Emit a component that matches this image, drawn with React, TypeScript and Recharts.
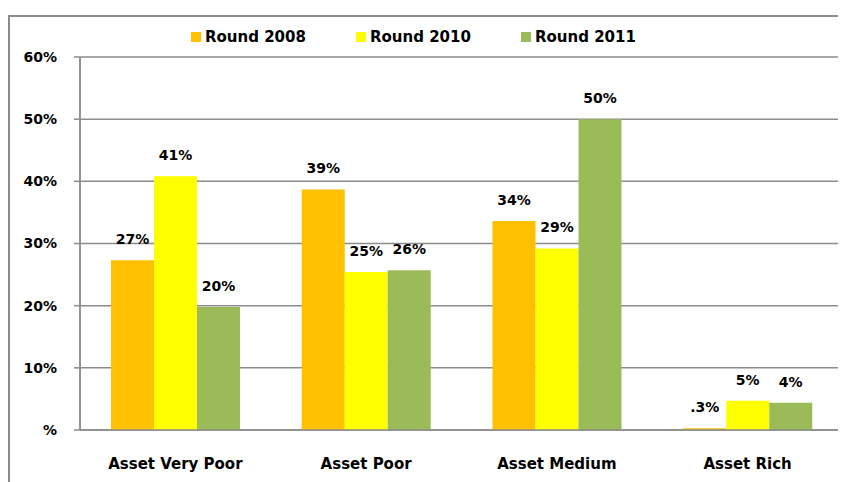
import React from "react";
import { BarChart, Bar, XAxis, YAxis, CartesianGrid, Legend, LabelList } from "recharts";

const categories = ["Asset Very Poor", "Asset Poor", "Asset Medium", "Asset Rich"];
const round2008 = [27.3, 38.7, 33.6, 0.3];
const round2010 = [40.8, 25.4, 29.2, 4.7];
const round2011 = [19.8, 25.7, 50.0, 4.4];
const yTicks = [0, 10, 20, 30, 40, 50, 60];
const sepTicks = [0, 1, 2, 3, 4];
const seriesNames = ["Round 2008", "Round 2010", "Round 2011"];
const seriesColors = ["#FFC000", "#FFFF00", "#9BBB59"];

const data = categories.map((c, i) => ({
  name: c,
  r2008: round2008[i],
  r2010: round2010[i],
  r2011: round2011[i],
}));

const FONT = "'DejaVu Sans', sans-serif";
const GRID = "#8c8c8c";

const fmtLabel = (v: any) => {
  const n = Number(v);
  return n < 1 ? `.${Math.round(n * 10)}%` : `${Math.round(n)}%`;
};

const LegendContent = () => (
  <div style={{ display: "flex", height: 18, paddingLeft: 191, fontFamily: FONT, fontWeight: "bold", fontSize: 15, color: "#000" }}>
    {seriesNames.map((n, i) => (
      <div key={n} style={{ width: 165, display: "flex", alignItems: "center" }}>
        <span style={{ display: "inline-block", width: 10, height: 10, background: seriesColors[i], marginRight: 4 }} />
        <span style={{ lineHeight: "18px" }}>{n}</span>
      </div>
    ))}
  </div>
);

const keys = ["r2008", "r2010", "r2011"];

export default function App() {
  return (
    <div style={{ position: "relative", width: 846, height: 482, margin: "-8px 0 0 -8px", overflow: "hidden", background: "#fff" }}>
      <div style={{ position: "absolute", left: 15, top: -10, fontFamily: FONT, fontWeight: "bold", fontSize: 15, lineHeight: "18px", whiteSpace: "nowrap" }}>
        Figure 4: Asset Wealth Categories
      </div>
      <div style={{ position: "absolute", left: 8, top: 15, width: 1000, height: 1000, border: "2px solid #8c8c8c", boxSizing: "border-box" }} />
      <div style={{ position: "absolute", left: 0, top: 0 }}>
        <BarChart width={846} height={482} data={data} margin={{ top: 39, right: 3, bottom: 0, left: 0 }} barGap={0}>
          <CartesianGrid xAxisId="sep" stroke={GRID} strokeWidth={1.5} horizontal={true} vertical={true} />
          <XAxis xAxisId="sep" type="number" domain={[0, 4]} ticks={sepTicks} tick={false} axisLine={false} tickSize={6} height={0} stroke={GRID} />
          <XAxis
            dataKey="name"
            tickLine={false}
            tickSize={0}
            tickMargin={28}
            height={52}
            axisLine={{ stroke: GRID, strokeWidth: 1.5 }}
            tick={{ fill: "#000", fontFamily: FONT, fontWeight: "bold", fontSize: 15 }}
          />
          <YAxis
            domain={[0, 60]}
            ticks={yTicks}
            width={80}
            tickSize={6}
            tickMargin={17}
            axisLine={{ stroke: GRID, strokeWidth: 1.5 }}
            tickLine={{ stroke: GRID, strokeWidth: 1.5 }}
            tickFormatter={(v: number) => (v === 0 ? "%" : `${v}%`)}
            tick={{ fill: "#000", fontFamily: FONT, fontWeight: "bold", fontSize: 14 }}
          />
          <Legend verticalAlign="top" content={<LegendContent />} wrapperStyle={{ top: 28, left: 0, width: 846, height: 18 }} />
          {keys.map((k, i) => (
            <Bar key={k} dataKey={k} name={seriesNames[i]} fill={seriesColors[i]} barSize={43} isAnimationActive={false}>
              <LabelList dataKey={k} position="top" offset={16} formatter={fmtLabel} fill="#000" fontFamily={FONT} fontWeight="bold" fontSize={14} />
            </Bar>
          ))}
        </BarChart>
      </div>
    </div>
  );
}
